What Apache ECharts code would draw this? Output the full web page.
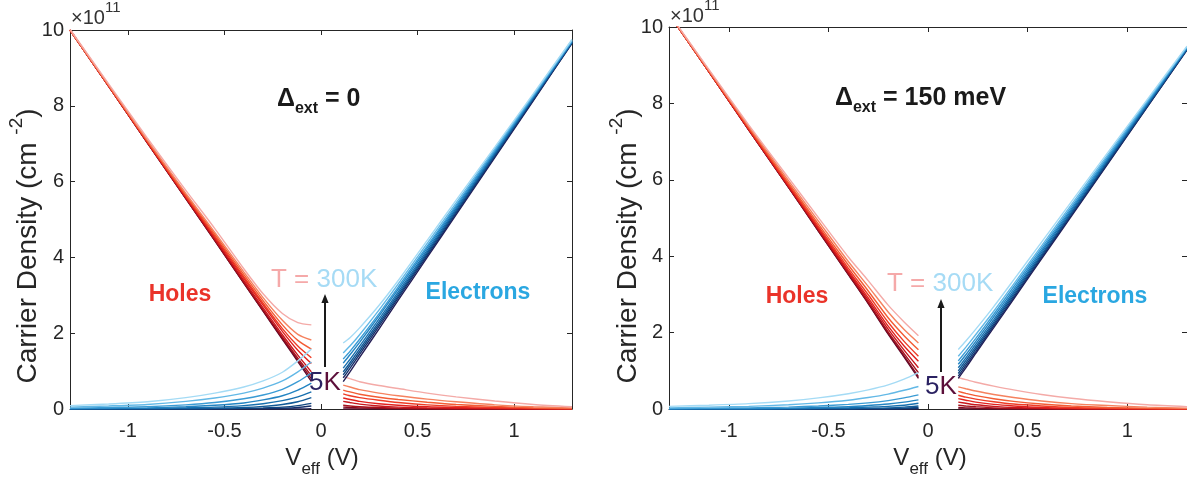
<!DOCTYPE html>
<html>
<head>
<meta charset="utf-8">
<script src="https://cdn.jsdelivr.net/npm/echarts@6/dist/echarts.min.js"></script>
<style>
  html, body { margin: 0; padding: 0; background: #fff; }
  #chart { width: 1187px; height: 484px; }
</style>
</head>
<body>
<div id="chart"></div>
<script>
// Carrier density (units of 1e11 cm^-2) versus effective gate voltage, nine temperatures 5K .. 300K.
// Row k of every table is temperature step k (0 = 5K, 8 = 300K).

// ---- Δext = 0 ----
const vNeg0 = [-1.3, -1.1, -0.9, -0.7, -0.55, -0.4, -0.3, -0.2, -0.12, -0.05];
const vPos0 = [0.115, 0.15, 0.2, 0.3, 0.4, 0.55, 0.7, 0.9, 1.1, 1.3];

const holesMajor0 = [
  [10.00, 8.52, 7.03, 5.55, 4.44, 3.32, 2.58, 1.84, 1.25, 0.73],
  [10.00, 8.52, 7.03, 5.55, 4.44, 3.33, 2.59, 1.86, 1.29, 0.80],
  [10.00, 8.52, 7.03, 5.56, 4.46, 3.35, 2.62, 1.90, 1.34, 0.88],
  [10.00, 8.52, 7.04, 5.58, 4.49, 3.39, 2.67, 1.96, 1.42, 0.98],
  [10.00, 8.52, 7.05, 5.60, 4.53, 3.45, 2.74, 2.05, 1.55, 1.20],
  [10.00, 8.53, 7.06, 5.62, 4.56, 3.49, 2.79, 2.12, 1.66, 1.35],
  [10.00, 8.54, 7.08, 5.65, 4.61, 3.55, 2.86, 2.22, 1.81, 1.58],
  [10.01, 8.55, 7.10, 5.69, 4.66, 3.62, 2.94, 2.34, 1.97, 1.82],
  [10.02, 8.58, 7.15, 5.77, 4.76, 3.70, 3.04, 2.52, 2.28, 2.22]
];
const electronsMinor0 = [
  [0, 0, 0, 0, 0, 0, 0, 0, 0, 0.01],
  [0, 0, 0, 0, 0, 0.01, 0.01, 0.02, 0.04, 0.08],
  [0, 0, 0, 0, 0.01, 0.02, 0.03, 0.05, 0.09, 0.15],
  [0, 0, 0.01, 0.01, 0.02, 0.04, 0.07, 0.12, 0.19, 0.30],
  [0, 0.01, 0.01, 0.03, 0.05, 0.09, 0.14, 0.22, 0.32, 0.45],
  [0.01, 0.02, 0.03, 0.06, 0.10, 0.16, 0.24, 0.35, 0.50, 0.68],
  [0.02, 0.04, 0.06, 0.11, 0.17, 0.27, 0.37, 0.52, 0.72, 0.95],
  [0.05, 0.08, 0.12, 0.20, 0.29, 0.42, 0.55, 0.74, 0.98, 1.24],
  [0.09, 0.13, 0.19, 0.30, 0.42, 0.58, 0.74, 0.97, 1.27, 1.58]
];
const electronsMajor0 = [
  [0.72, 0.98, 1.36, 2.11, 2.87, 4.00, 5.13, 6.63, 8.14, 9.65],
  [0.82, 1.07, 1.44, 2.18, 2.93, 4.05, 5.17, 6.66, 8.16, 9.66],
  [0.90, 1.15, 1.51, 2.24, 2.98, 4.10, 5.21, 6.69, 8.18, 9.67],
  [0.98, 1.22, 1.58, 2.30, 3.03, 4.14, 5.25, 6.72, 8.20, 9.68],
  [1.08, 1.31, 1.66, 2.37, 3.09, 4.19, 5.29, 6.75, 8.22, 9.69],
  [1.21, 1.43, 1.76, 2.45, 3.16, 4.25, 5.34, 6.79, 8.24, 9.70],
  [1.32, 1.52, 1.84, 2.51, 3.22, 4.30, 5.38, 6.82, 8.26, 9.71],
  [1.48, 1.66, 1.96, 2.61, 3.30, 4.37, 5.44, 6.86, 8.29, 9.73],
  [1.74, 1.88, 2.14, 2.73, 3.39, 4.45, 5.51, 6.91, 8.32, 9.75]
];
const holesMinor0 = [
  [0, 0, 0, 0, 0, 0, 0, 0, 0, 0],
  [0.05, 0.04, 0.03, 0.02, 0.01, 0, 0, 0, 0, 0],
  [0.10, 0.08, 0.06, 0.04, 0.02, 0.01, 0, 0, 0, 0],
  [0.20, 0.17, 0.13, 0.08, 0.05, 0.03, 0.02, 0.01, 0, 0],
  [0.29, 0.25, 0.20, 0.14, 0.10, 0.06, 0.04, 0.02, 0.01, 0],
  [0.40, 0.35, 0.30, 0.23, 0.17, 0.11, 0.07, 0.04, 0.02, 0.01],
  [0.50, 0.45, 0.39, 0.31, 0.25, 0.18, 0.12, 0.07, 0.03, 0.01],
  [0.63, 0.58, 0.51, 0.42, 0.35, 0.26, 0.19, 0.11, 0.06, 0.03],
  [0.86, 0.80, 0.72, 0.62, 0.54, 0.42, 0.32, 0.21, 0.12, 0.06]
];

// ---- Δext = 150 meV ----
const vNeg150 = [-1.3, -1.1, -0.9, -0.7, -0.55, -0.4, -0.3, -0.2, -0.12, -0.048];
const vPos150 = [0.152, 0.19, 0.24, 0.33, 0.43, 0.57, 0.72, 0.9, 1.1, 1.3];

const holesMajor150 = [
  [10.34, 8.83, 7.31, 5.80, 4.66, 3.52, 2.76, 1.96, 1.36, 0.80],
  [10.34, 8.83, 7.31, 5.80, 4.66, 3.53, 2.77, 1.98, 1.39, 0.85],
  [10.34, 8.83, 7.31, 5.81, 4.68, 3.55, 2.80, 2.02, 1.45, 0.95],
  [10.34, 8.83, 7.32, 5.83, 4.71, 3.59, 2.85, 2.09, 1.54, 1.08],
  [10.34, 8.83, 7.33, 5.85, 4.74, 3.63, 2.91, 2.17, 1.65, 1.25],
  [10.34, 8.84, 7.35, 5.88, 4.78, 3.69, 2.99, 2.27, 1.77, 1.38],
  [10.34, 8.85, 7.37, 5.92, 4.84, 3.77, 3.09, 2.39, 1.92, 1.55],
  [10.35, 8.87, 7.40, 5.98, 4.92, 3.86, 3.21, 2.54, 2.08, 1.73],
  [10.36, 8.89, 7.44, 6.05, 5.01, 3.98, 3.36, 2.72, 2.28, 1.92]
];
const electronsMinor150 = [
  [0, 0, 0, 0, 0, 0, 0, 0, 0, 0],
  [0, 0, 0, 0, 0, 0, 0, 0, 0.01, 0.02],
  [0, 0, 0, 0, 0, 0, 0.01, 0.01, 0.02, 0.04],
  [0, 0, 0, 0, 0.01, 0.01, 0.02, 0.03, 0.05, 0.08],
  [0, 0, 0, 0.01, 0.02, 0.03, 0.05, 0.07, 0.10, 0.15],
  [0, 0.01, 0.01, 0.02, 0.04, 0.06, 0.09, 0.13, 0.18, 0.24],
  [0.01, 0.02, 0.03, 0.05, 0.08, 0.12, 0.16, 0.22, 0.29, 0.37],
  [0.03, 0.05, 0.07, 0.11, 0.16, 0.23, 0.30, 0.39, 0.49, 0.59],
  [0.07, 0.10, 0.14, 0.21, 0.29, 0.40, 0.50, 0.63, 0.78, 0.95]
];
const electronsMajor150 = [
  [0.80, 1.08, 1.46, 2.13, 2.88, 3.93, 5.05, 6.40, 7.90, 9.40],
  [0.86, 1.14, 1.51, 2.18, 2.92, 3.97, 5.08, 6.42, 7.91, 9.41],
  [0.93, 1.20, 1.57, 2.23, 2.97, 4.01, 5.12, 6.45, 7.93, 9.42],
  [1.00, 1.27, 1.63, 2.28, 3.02, 4.05, 5.15, 6.48, 7.95, 9.43],
  [1.08, 1.34, 1.70, 2.34, 3.07, 4.10, 5.20, 6.52, 7.98, 9.44],
  [1.17, 1.42, 1.77, 2.41, 3.13, 4.15, 5.24, 6.55, 8.00, 9.45],
  [1.26, 1.51, 1.85, 2.48, 3.20, 4.21, 5.29, 6.59, 8.03, 9.47],
  [1.38, 1.62, 1.95, 2.56, 3.27, 4.27, 5.35, 6.64, 8.06, 9.48],
  [1.56, 1.78, 2.09, 2.68, 3.38, 4.37, 5.43, 6.70, 8.10, 9.50]
];
const holesMinor150 = [
  [0, 0, 0, 0, 0, 0, 0, 0, 0, 0],
  [0.04, 0.03, 0.02, 0.01, 0, 0, 0, 0, 0, 0],
  [0.10, 0.08, 0.06, 0.03, 0.02, 0.01, 0, 0, 0, 0],
  [0.18, 0.15, 0.11, 0.07, 0.04, 0.02, 0.01, 0, 0, 0],
  [0.27, 0.23, 0.18, 0.12, 0.08, 0.04, 0.02, 0.01, 0, 0],
  [0.36, 0.31, 0.26, 0.19, 0.13, 0.08, 0.04, 0.02, 0.01, 0],
  [0.46, 0.41, 0.35, 0.27, 0.20, 0.13, 0.08, 0.04, 0.02, 0.01],
  [0.58, 0.53, 0.47, 0.38, 0.30, 0.21, 0.14, 0.09, 0.05, 0.02],
  [0.82, 0.77, 0.70, 0.60, 0.50, 0.38, 0.28, 0.19, 0.11, 0.06]
];

// Tick values
const xTicks = [-1, -0.5, 0, 0.5, 1];
const yTicks = [0, 2, 4, 6, 8, 10];

// Colour ramps, 5K (dark) -> 300K (light)
const holeColors = ['#5a0a2c', '#800b22', '#a6111c', '#c8161c', '#e1211d', '#ee3b25', '#f35c34', '#f5825f', '#f4aaa7'];
const electronColors = ['#251f56', '#15306b', '#10457f', '#125a97', '#176fae', '#2384c2', '#3a9bd4', '#62b8e6', '#a4dbf5'];

const FONT = 'Liberation Sans, Arial, Helvetica, sans-serif';
const AXIS_COLOR = '#262626';

function curveSeries(panel, xs, rows, colors) {
  return rows.map((row, k) => ({
    type: 'line',
    xAxisIndex: panel * 2,
    yAxisIndex: panel * 2,
    data: xs.map((x, i) => [x, row[i]]),
    symbol: 'none',
    showSymbol: false,
    smooth: 0.25,
    clip: true,
    silent: true,
    animation: false,
    lineStyle: { color: colors[k], width: 1.4 }
  }));
}

function xAxisPair(gridIndex) {
  const common = {
    type: 'value', gridIndex, min: -1.3, max: 1.3,
    axisLine: { show: true, onZero: false, lineStyle: { color: AXIS_COLOR, width: 1 } },
    axisTick: { show: true, inside: true, length: 5, customValues: xTicks, lineStyle: { color: AXIS_COLOR } },
    splitLine: { show: false }
  };
  return [
    Object.assign({}, common, {
      position: 'bottom',
      axisLabel: { show: true, customValues: xTicks, margin: 12, color: AXIS_COLOR, fontSize: 20, fontFamily: FONT,
                   formatter: v => String(v) }
    }),
    Object.assign({}, common, { position: 'top', axisLabel: { show: false } })
  ];
}

function yAxisPair(gridIndex) {
  const common = {
    type: 'value', gridIndex, min: 0, max: 10, interval: 2,
    axisLine: { show: true, onZero: false, lineStyle: { color: AXIS_COLOR, width: 1 } },
    axisTick: { show: true, inside: true, length: 5, customValues: yTicks, lineStyle: { color: AXIS_COLOR } },
    splitLine: { show: false }
  };
  return [
    Object.assign({}, common, {
      position: 'left',
      axisLabel: { show: true, customValues: yTicks, margin: 6, color: AXIS_COLOR, fontSize: 20, fontFamily: FONT }
    }),
    Object.assign({}, common, { position: 'right', axisLabel: { show: false } })
  ];
}

function txt(x, y, text, rich, extra) {
  return {
    type: 'text', x, y, silent: true, z: 100,
    style: Object.assign({ text, rich, fontFamily: FONT, fill: AXIS_COLOR }, extra || {})
  };
}

function arrow(x, yBottom, yTip) {
  return [
    { type: 'line', silent: true, z: 100,
      shape: { x1: x, y1: yBottom, x2: x, y2: yTip + 7 },
      style: { stroke: '#1a1a1a', lineWidth: 2 } },
    { type: 'polygon', silent: true, z: 100,
      shape: { points: [[x, yTip], [x - 3.6, yTip + 9], [x + 3.6, yTip + 9]] },
      style: { fill: '#1a1a1a' } }
  ];
}

function panelTexts(o) {
  return [
    // ×10^11 exponent
    txt(o.expX, o.expY, '{a|×10}{b|11}', {
      a: { fontSize: 20, fontFamily: FONT, fill: '#333', verticalAlign: 'bottom', lineHeight: 28 },
      b: { fontSize: 15, fontFamily: FONT, fill: '#333', verticalAlign: 'top', lineHeight: 28 }
    }, { verticalAlign: 'middle', align: 'left' }),
    // y-axis title
    Object.assign(txt(o.yLabX, o.yLabY, '{a|Carrier Density (cm }{b|-2}{a|)}', {
      a: { fontSize: 28, fontFamily: FONT, fill: AXIS_COLOR, verticalAlign: 'bottom', lineHeight: 35 },
      b: { fontSize: 19, fontFamily: FONT, fill: AXIS_COLOR, verticalAlign: 'top', lineHeight: 35 }
    }, { align: 'center', verticalAlign: 'middle' }), { rotation: Math.PI / 2 }),
    // x-axis title
    txt(o.xLabX, o.xLabY, '{a|V}{b|eff}{a| (V)}', {
      a: { fontSize: 24, fontFamily: FONT, fill: AXIS_COLOR, verticalAlign: 'top', lineHeight: 32 },
      b: { fontSize: 17, fontFamily: FONT, fill: AXIS_COLOR, verticalAlign: 'bottom', lineHeight: 32 }
    }, { align: 'center', verticalAlign: 'middle' }),
    // gap label
    txt(o.deltaX, o.deltaY, '{a|Δ}{b|ext}{a| = ' + o.deltaText + '}', {
      a: { fontSize: 25, fontWeight: 'bold', fontFamily: FONT, fill: '#1a1a1a', verticalAlign: 'top', lineHeight: 30 },
      b: { fontSize: 16, fontWeight: 'bold', fontFamily: FONT, fill: '#1a1a1a', verticalAlign: 'bottom', lineHeight: 30 }
    }, { align: 'left', verticalAlign: 'middle' }),
    txt(o.holesX, o.holesY, 'Holes', null,
      { fontSize: 23, fontWeight: 'bold', fill: '#ea3329', align: 'center', verticalAlign: 'middle' }),
    txt(o.elecX, o.elecY, 'Electrons', null,
      { fontSize: 23, fontWeight: 'bold', fill: '#2aa7e1', align: 'center', verticalAlign: 'middle' }),
    txt(o.tX, o.tY, '{p|T = }{q|300K}', {
      p: { fontSize: 26, fontFamily: FONT, fill: '#f5a9a9' },
      q: { fontSize: 26, fontFamily: FONT, fill: '#a6dbf5' }
    }, { align: 'left', verticalAlign: 'middle' }),
    txt(o.kX, o.kY, '{m|5}{n|K}', {
      m: { fontSize: 26, fontFamily: FONT, fill: '#2b2262' },
      n: { fontSize: 26, fontFamily: FONT, fill: '#5c0f3a' }
    }, { align: 'left', verticalAlign: 'middle' }),
    ...arrow(o.arrX, o.arrBottom, o.arrTip)
  ];
}

const series = [].concat(
  curveSeries(0, vNeg0, holesMajor0, holeColors),
  curveSeries(0, vPos0, holesMinor0, holeColors),
  curveSeries(0, vNeg0, electronsMinor0, electronColors),
  curveSeries(0, vPos0, electronsMajor0, electronColors),
  curveSeries(1, vNeg150, holesMajor150, holeColors),
  curveSeries(1, vPos150, holesMinor150, holeColors),
  curveSeries(1, vNeg150, electronsMinor150, electronColors),
  curveSeries(1, vPos150, electronsMajor150, electronColors)
);

const option = {
  backgroundColor: '#ffffff',
  animation: false,
  grid: [
    { left: 70, top: 30, width: 502, height: 379, containLabel: false },
    { left: 669, top: 27, width: 520, height: 382, containLabel: false }
  ],
  xAxis: [].concat(xAxisPair(0), xAxisPair(1)),
  yAxis: [].concat(yAxisPair(0), yAxisPair(1)),
  series,
  graphic: [].concat(
    panelTexts({
      expX: 71, expY: 14, yLabX: 25, yLabY: 246, xLabX: 322, xLabY: 462,
      deltaX: 277, deltaY: 102, deltaText: '0',
      holesX: 180, holesY: 295, elecX: 478, elecY: 293,
      tX: 271, tY: 280, kX: 309, kY: 383,
      arrX: 325, arrBottom: 367, arrTip: 294
    }),
    panelTexts({
      expX: 670, expY: 12, yLabX: 625, yLabY: 246, xLabX: 930, xLabY: 462,
      deltaX: 835, deltaY: 101, deltaText: '150 meV',
      holesX: 797, holesY: 297, elecX: 1095, elecY: 297,
      tX: 887, tY: 284, kX: 925, kY: 387,
      arrX: 941, arrBottom: 372, arrTip: 299
    })
  )
};

const chart = echarts.init(document.getElementById('chart'), null, { renderer: 'canvas' });
chart.setOption(option);
</script>
</body>
</html>
